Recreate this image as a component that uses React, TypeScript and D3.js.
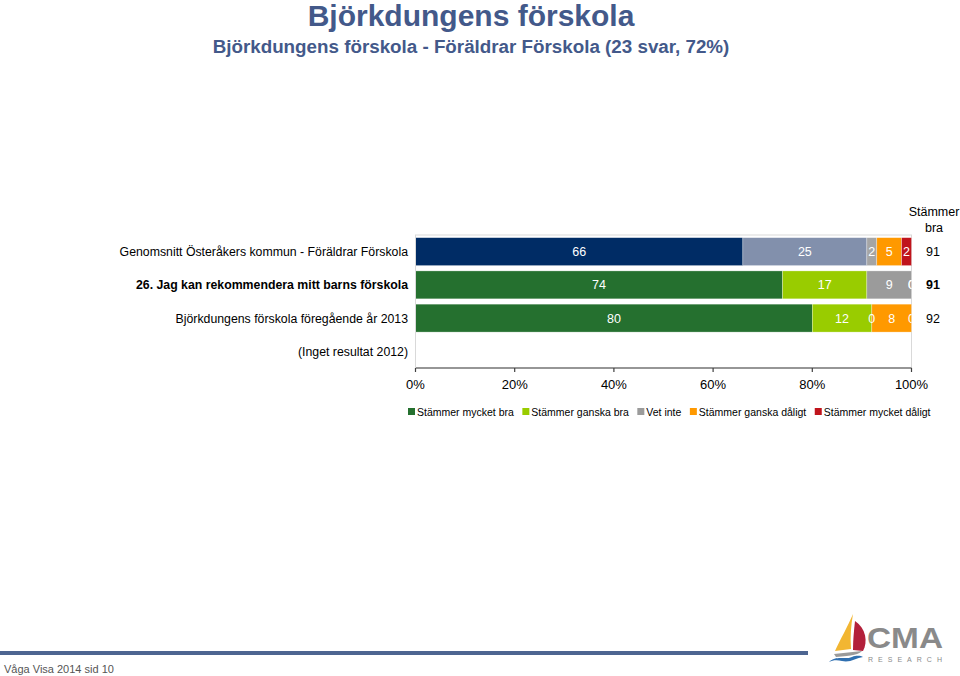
import React, { useEffect, useRef } from 'react';
import * as d3 from 'd3';

// Chart data
const categories = [
  "Genomsnitt Österåkers kommun - Föräldrar Förskola",
  "26. Jag kan rekommendera mitt barns förskola",
  "Björkdungens förskola föregående år 2013",
  "(Inget resultat 2012)",
];
const boldCategory = "26. Jag kan rekommendera mitt barns förskola";

const seriesNames = [
  "Stämmer mycket bra",
  "Stämmer ganska bra",
  "Vet inte",
  "Stämmer ganska dåligt",
  "Stämmer mycket dåligt",
];
const mycketBra = [66, 74, 80];
const ganskaBra = [25, 17, 12];
const vetInte = [2, 9, 0];
const ganskaDaligt = [5, 0, 8];
const mycketDaligt = [2, 0, 0];
const stammerBra = [91, 91, 92];

const xTicks = [0, 20, 40, 60, 80, 100];

const seriesColors = ["#25702f", "#99cc00", "#9b9b9b", "#ff9900", "#c0141c"];
const averageColors = ["#002c65", "#8290ac", "#a5a5a5", "#ff9900", "#c0141c"];

const App: React.FC = () => {
  const svgRef = useRef<SVGSVGElement>(null);

  useEffect(() => {
    if (!svgRef.current) return;
    const svg = d3.select(svgRef.current);
    svg.selectAll("*").remove();

    const font = "'Liberation Sans', Arial, sans-serif";
    const titleColor = "#43598a";

    // Titles
    svg.append("text")
      .attr("x", 471).attr("y", 26)
      .attr("text-anchor", "middle")
      .style("font-family", font).style("font-size", "30px").style("font-weight", "bold")
      .style("fill", titleColor)
      .text("Björkdungens förskola");

    svg.append("text")
      .attr("x", 471).attr("y", 53)
      .attr("text-anchor", "middle")
      .style("font-family", font).style("font-size", "18.8px").style("font-weight", "bold")
      .style("fill", titleColor)
      .text("Björkdungens förskola - Föräldrar Förskola (23 svar, 72%)");

    // Plot area
    const left = 415.5, right = 911.5, top = 235, bottom = 368;
    const x = d3.scaleLinear().domain([0, 100]).range([left, right]);
    const y = d3.scaleBand<string>().domain(categories).range([top, bottom]).paddingInner(0.16).paddingOuter(0.08);

    svg.append("rect")
      .attr("x", left).attr("y", top)
      .attr("width", right - left).attr("height", bottom - top)
      .style("fill", "none").style("stroke", "#d9d9d9").style("stroke-width", 1);

    svg.append("clipPath").attr("id", "plotclip")
      .append("rect").attr("x", left).attr("y", top).attr("width", right - left).attr("height", bottom - top);

    const rows = [0, 1, 2].map(i => [mycketBra[i], ganskaBra[i], vetInte[i], ganskaDaligt[i], mycketDaligt[i]]);

    const barsG = svg.append("g");
    const labelsG = svg.append("g").attr("clip-path", "url(#plotclip)");

    rows.forEach((vals, i) => {
      const cat = categories[i];
      const yy = y(cat)!;
      const h = y.bandwidth();
      const colors = i === 0 ? averageColors : seriesColors;
      let acc = 0;
      vals.forEach((v, j) => {
        const x0 = x(acc), x1 = x(acc + v);
        if (v > 0) {
          barsG.append("rect")
            .attr("x", x0).attr("y", yy)
            .attr("width", x1 - x0).attr("height", h)
            .style("fill", colors[j])
            .style("stroke", "rgba(255,255,255,0.5)")
            .style("stroke-width", 0.6);
        }
        labelsG.append("text")
          .attr("x", (x0 + x1) / 2)
          .attr("y", yy + h / 2 + 4.5)
          .attr("text-anchor", "middle")
          .style("font-family", font).style("font-size", "12.5px")
          .style("fill", "#ffffff")
          .text(String(v));
        acc += v;
      });

      // Stämmer bra column
      svg.append("text")
        .attr("x", 933).attr("y", yy + h / 2 + 4.5)
        .attr("text-anchor", "middle")
        .style("font-family", font).style("font-size", "12.5px")
        .style("font-weight", cat === boldCategory ? "bold" : "normal")
        .style("fill", "#000")
        .text(String(stammerBra[i]));
    });

    // Column header
    svg.append("text").attr("x", 934).attr("y", 216).attr("text-anchor", "middle")
      .style("font-family", font).style("font-size", "12.5px").style("fill", "#000").text("Stämmer");
    svg.append("text").attr("x", 934).attr("y", 232).attr("text-anchor", "middle")
      .style("font-family", font).style("font-size", "12.5px").style("fill", "#000").text("bra");

    // Category labels
    categories.forEach(cat => {
      svg.append("text")
        .attr("x", 408)
        .attr("y", y(cat)! + y.bandwidth() / 2 + 4.5)
        .attr("text-anchor", "end")
        .style("font-family", font).style("font-size", "12.3px")
        .style("font-weight", cat === boldCategory ? "bold" : "normal")
        .style("fill", "#000")
        .text(cat);
    });

    // X axis
    const axisG = svg.append("g");
    axisG.append("line")
      .attr("x1", left).attr("x2", right).attr("y1", bottom).attr("y2", bottom)
      .style("stroke", "#404040").style("stroke-width", 1.2);
    axisG.append("line")
      .attr("x1", left).attr("x2", left).attr("y1", top).attr("y2", bottom)
      .style("stroke", "#d9d9d9").style("stroke-width", 1);
    xTicks.forEach(t => {
      axisG.append("line")
        .attr("x1", x(t)).attr("x2", x(t)).attr("y1", bottom).attr("y2", bottom + 4)
        .style("stroke", "#404040").style("stroke-width", 1.2);
      axisG.append("text")
        .attr("x", x(t)).attr("y", bottom + 21)
        .attr("text-anchor", "middle")
        .style("font-family", font).style("font-size", "13px").style("fill", "#000")
        .text(`${t}%`);
    });

    // Legend
    const legendG = svg.append("g");
    let lx = 408;
    seriesNames.forEach((name, j) => {
      legendG.append("rect")
        .attr("x", lx).attr("y", 408).attr("width", 7).attr("height", 7)
        .style("fill", seriesColors[j]);
      const t = legendG.append("text")
        .attr("x", lx + 9).attr("y", 416)
        .style("font-family", font).style("font-size", "10.5px").style("fill", "#000")
        .text(name);
      const w = (t.node() as SVGTextElement).getComputedTextLength();
      lx += 9 + w + 8.5;
    });

    // Footer
    svg.append("rect").attr("x", 0).attr("y", 651).attr("width", 808).attr("height", 4)
      .style("fill", "#4d6591");
    svg.append("text").attr("x", 4).attr("y", 673)
      .style("font-family", "'Liberation Sans Narrow', 'Arial Narrow', " + font)
      .style("font-size", "11px").style("fill", "#555")
      .text("Våga Visa 2014 sid 10");

    // Logo
    const logo = svg.append("g");
    logo.append("path").attr("d", "M853,614 C848,626 840,640 835,651 L851,649 C850,637 851,625 853,614 Z")
      .style("fill", "#f2b632");
    logo.append("path").attr("d", "M855,621 C866,628 868,642 863,651 L853,650 C853,640 854,630 855,621 Z")
      .style("fill", "#b3203a");
    logo.append("path").attr("d", "M834,654 L862,651 C860,654 852,656 836,657 Z")
      .style("fill", "#9a9a9a");
    logo.append("path").attr("d", "M829,662 C836,655 845,660 852,657 C857,655 861,656 863,657 C856,658 850,663 842,661 C837,660 833,660 829,662 Z")
      .style("fill", "#2f6fb0");
    logo.append("text").attr("x", 867).attr("y", 648)
      .style("font-family", font).style("font-size", "30px").style("font-weight", "bold")
      .style("fill", "#8a8a8a").attr("textLength", 76).attr("lengthAdjust", "spacingAndGlyphs")
      .text("CMA");
    logo.append("text").attr("x", 868).attr("y", 662)
      .style("font-family", font).style("font-size", "7px")
      .style("fill", "#8a8a8a").attr("textLength", 74)
      .text("RESEARCH");
  }, []);

  return (
    <svg
      ref={svgRef}
      width={960}
      height={676}
      style={{ position: "absolute", left: 0, top: 0, background: "#fff" }}
    />
  );
};

export default App;
